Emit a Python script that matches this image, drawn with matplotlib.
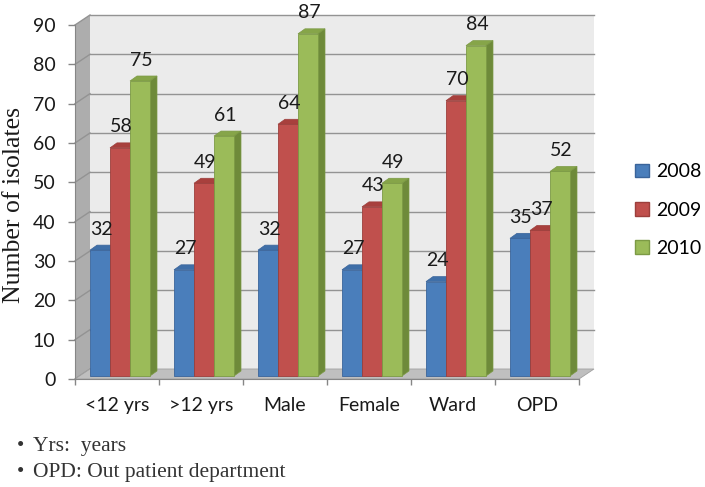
import matplotlib
matplotlib.use('Agg')
import matplotlib.pyplot as plt
from matplotlib.patches import Polygon, Rectangle, Patch

categories = ['<12 yrs', '>12 yrs', 'Male', 'Female', 'Ward', 'OPD']
years = ['2008', '2009', '2010']
v2008 = [32, 27, 32, 27, 24, 35]
v2009 = [58, 49, 64, 43, 70, 37]
v2010 = [75, 61, 87, 49, 84, 52]
yticks = list(range(0, 100, 10))

series = [v2008, v2009, v2010]
front_c = ['#4A7EBB', '#C0504D', '#9BBB59']
top_c = ['#3F6FA8', '#A8403D', '#86A549']
side_c = ['#335A8A', '#8C3533', '#6E8A3A']
edge_c = ['#3A649A', '#9C3F3C', '#7C9A45']

W, H, DPI = 705, 487, 100
fig = plt.figure(figsize=(W / DPI, H / DPI), dpi=DPI)

ax_l, ax_r, ax_t, ax_b = 75, 579, 25, 379
ax = fig.add_axes([ax_l / W, 1 - ax_b / H, (ax_r - ax_l) / W, (ax_b - ax_t) / H])
ax.set_xlim(-0.5, 5.5)
ax.set_ylim(0, 90)
ax.patch.set_visible(False)

pxx = (ax_r - ax_l) / 6.0
pxy = (ax_b - ax_t) / 90.0
# depth offsets in data units
wdx, wdy = 15 / pxx, 10 / pxy     # wall depth
bdx, bdy = 7 / pxx, 5 / pxy       # bar depth
sx, sy = 3 / pxx, 3 / pxy         # bar shift from front
bw = 20 / pxx

grid_c = '#939393'
axis_c = '#868686'
txt_c = '#1a1a1a'
fs = 14

# back wall
ax.add_patch(Rectangle((-0.5 + wdx, wdy), 6, 90, facecolor='#EBEBEB', edgecolor='none',
                       zorder=0, clip_on=False))
# left side wall
ax.add_patch(Polygon([(-0.5, 0), (-0.5 + wdx, wdy), (-0.5 + wdx, 90 + wdy), (-0.5, 90)],
                     closed=True, facecolor='#ADADAD', edgecolor='none', zorder=0.5, clip_on=False))
# floor
ax.add_patch(Polygon([(-0.5, 0), (5.5, 0), (5.5 + wdx, wdy), (-0.5 + wdx, wdy)],
                     closed=True, facecolor='#BFBFBF', edgecolor='#A0A0A0', lw=0.6,
                     zorder=1, clip_on=False))
# gridlines
for v in yticks:
    if v > 0:
        ax.plot([-0.5 + wdx, 5.5 + wdx], [v + wdy, v + wdy], color=grid_c, lw=1.0,
                zorder=0.8, clip_on=False)
    ax.plot([-0.5, -0.5 + wdx], [v, v + wdy], color=grid_c, lw=1.0, zorder=0.9, clip_on=False)

# bars
for i, cat in enumerate(categories):
    for k, vals in enumerate(series):
        v = vals[i]
        x0 = i - 1.5 * bw + sx + k * bw
        z = 2 + i + k * 0.1
        top = sy + v
        ax.add_patch(Polygon([(x0, top), (x0 + bw, top), (x0 + bw + bdx, top + bdy),
                              (x0 + bdx, top + bdy)], closed=True, facecolor=top_c[k],
                             edgecolor=edge_c[k], lw=0.5, zorder=z, clip_on=False))
        ax.add_patch(Polygon([(x0 + bw, sy), (x0 + bw + bdx, sy + bdy),
                              (x0 + bw + bdx, top + bdy), (x0 + bw, top)], closed=True,
                             facecolor=side_c[k], edgecolor=edge_c[k], lw=0.5, zorder=z,
                             clip_on=False))
        ax.bar(x0, v, width=bw, bottom=sy, align='edge', color=front_c[k],
               edgecolor=edge_c[k], lw=0.6, zorder=z + 0.01)
        ax.annotate(str(v), (x0 + bw / 2, top), xytext=(1, 21), textcoords='offset pixels',
                    ha='center', va='center', fontsize=fs, family='Lato', color=txt_c,
                    zorder=20)

# axes styling
for s in ['top', 'right']:
    ax.spines[s].set_visible(False)
ax.spines['left'].set_color(axis_c)
ax.spines['bottom'].set_color(axis_c)
ax.set_yticks(yticks)
ax.set_yticklabels([str(t) for t in yticks], fontsize=fs, family='Lato', color=txt_c)
ax.tick_params(axis='y', length=5, width=1, color=axis_c, pad=9)
ax.set_xticks(range(len(categories)))
ax.set_xticklabels(categories, fontsize=fs, family='Lato', color=txt_c)
ax.set_xticks([i - 0.5 for i in range(len(categories) + 1)], minor=True)
ax.tick_params(axis='x', which='major', length=0, pad=13)
ax.tick_params(axis='x', which='minor', length=4.5, width=1, color=axis_c)

fig.text(14 / W, 1 - 205 / H, 'Number of isolates', rotation=90, ha='center', va='center',
         family='Liberation Serif', fontsize=18.5, color=txt_c)

handles = [Patch(facecolor=front_c[k], edgecolor=edge_c[k], label=years[k]) for k in range(3)]
fig.legend(handles=handles, loc='center left', bbox_to_anchor=(635 / W, 1 - 210 / H),
           frameon=False, prop={'family': 'Lato', 'size': fs},
           handlelength=0.7, handleheight=0.7, handletextpad=0.4, labelspacing=1.1,
           borderpad=0, borderaxespad=0)

fig.text(17 / W, 1 - 447 / H, '•', ha='left', va='center', family='Liberation Serif',
         fontsize=15, color='#333333')
fig.text(33 / W, 1 - 447 / H, 'Yrs:  years', ha='left', va='center', family='Liberation Serif',
         fontsize=15.5, color='#333333')
fig.text(17 / W, 1 - 472 / H, '•', ha='left', va='center', family='Liberation Serif',
         fontsize=15, color='#333333')
fig.text(33 / W, 1 - 472 / H, 'OPD: Out patient department', ha='left', va='center',
         family='Liberation Serif', fontsize=15.5, color='#333333')

fig.savefig('out.png', dpi=DPI)
